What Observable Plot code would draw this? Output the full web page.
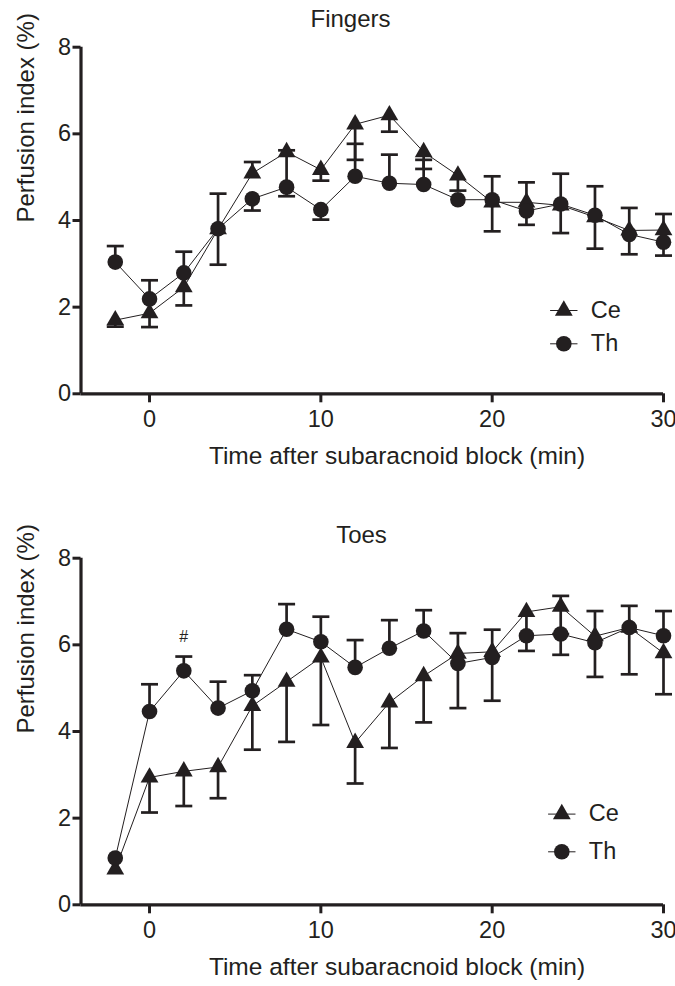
<!DOCTYPE html>
<html><head><meta charset="utf-8">
<script src="https://cdn.jsdelivr.net/npm/d3@7"></script>
<script src="https://cdn.jsdelivr.net/npm/@observablehq/plot@0.6"></script>
<style>
body{margin:0;background:#fff;}
#chart{width:675px;}
#chart svg{display:block;}
</style></head><body><div id="chart"></div>
<script>
// ---- data ----
const times = [-2, 0, 2, 4, 6, 8, 10, 12, 14, 16, 18, 20, 22, 24, 26, 28, 30];
const seriesNames = ["Ce", "Th"];
const xTicks = [0, 10, 20, 30];
const yTicks = [0, 2, 4, 6, 8];
const xDomain = [-4, 30];
const yDomain = [0, 8];
const panelTitles = ["Fingers", "Toes"];
const xLabel = "Time after subaracnoid block (min)";
const yLabel = "Perfusion index (%)";

// Fingers
const fingersCe   = [1.70, 1.86, 2.46, 3.80, 5.09, 5.58, 5.17, 6.22, 6.43, 5.58, 5.04, 4.42, 4.42, 4.35, 4.08, 3.77, 3.78];
const fingersCeLo = [1.55, 1.54, 2.04, null, null, 4.56, 4.92, 5.40, 6.05, 5.19, 4.69, 3.75, null, null, null, null, null];
const fingersCeHi = [null, null, null, 4.62, 5.35, 5.62, null, null, null, null, null, null, 4.88, 5.08, 4.79, 4.29, 4.15];
const fingersTh   = [3.04, 2.19, 2.79, 3.81, 4.50, 4.77, 4.25, 5.02, 4.86, 4.83, 4.48, 4.48, 4.22, 4.38, 4.12, 3.68, 3.50];
const fingersThLo = [null, null, null, 2.98, 4.23, null, 4.02, null, null, null, null, null, 3.90, 3.71, 3.35, 3.22, 3.19];
const fingersThHi = [3.41, 2.62, 3.28, null, null, null, null, 5.77, 5.52, 5.40, null, 5.02, null, null, null, null, null];

// Toes
const toesCe   = [0.82, 2.94, 3.08, 3.18, 4.59, 5.15, 5.71, 3.74, 4.67, 5.28, 5.80, 5.84, 6.76, 6.88, 6.20, 6.40, 5.81];
const toesCeLo = [null, 2.13, 2.28, 2.46, 3.58, 3.76, 4.15, 2.80, 3.62, 4.21, null, null, 5.86, 6.25, null, 5.32, 4.86];
const toesCeHi = [null, null, null, null, null, null, null, null, null, null, 6.27, 6.35, null, 7.13, 6.78, null, null];
const toesTh   = [1.08, 4.46, 5.40, 4.54, 4.94, 6.36, 6.07, 5.48, 5.92, 6.32, 5.57, 5.71, 6.21, 6.25, 6.05, 6.40, 6.21];
const toesThLo = [null, null, null, null, null, null, null, null, null, null, 4.54, 4.71, null, 5.77, 5.26, null, null];
const toesThHi = [null, 5.09, 5.73, 5.15, 5.30, 6.94, 6.65, 6.11, 6.57, 6.80, null, null, null, null, null, 6.90, 6.78];

// significance marks (Toes, Th)
const hashTimes = [2];
const hashLabel = "#";

// ---- build ----
const ink = "#231f20";
const font = "'Liberation Sans', Arial, Helvetica, sans-serif";
const hline = {draw(ctx, size) { const w = Math.sqrt(size / Math.PI); ctx.moveTo(-w, 0); ctx.lineTo(w, 0); }};
const symbols = {Ce: "triangle", Th: "circle"};
const radii = {Ce: 6.6, Th: 7.8};

function rows(name, mean, lo, hi) {
  return times.map((t, i) => ({series: name, t, mean: mean[i], lo: lo[i], hi: hi[i]}));
}

function panel(cfg) {
  const data = [
    rows("Ce", cfg.ce, cfg.ceLo, cfg.ceHi),
    rows("Th", cfg.th, cfg.thLo, cfg.thHi)
  ];
  const all = data.flat();
  const bars = all.filter(d => d.lo != null || d.hi != null);
  const caps = [];
  for (const d of all) {
    if (d.lo != null) caps.push({t: d.t, v: d.lo});
    if (d.hi != null) caps.push({t: d.t, v: d.hi});
  }
  const legendMarks = seriesNames.flatMap((name, i) => {
    const dy = cfg.legendDy[i];
    return [
      Plot.dot([name], {frameAnchor: "bottom-right", dx: cfg.legendDx, dy, symbol: hline, r: 13.7, stroke: ink, strokeWidth: 1, fill: "none"}),
      Plot.dot([name], {frameAnchor: "bottom-right", dx: cfg.legendDx, dy, symbol: symbols[name], r: radii[name], fill: ink}),
      Plot.text([name], {frameAnchor: "bottom-right", dx: cfg.legendDx + 27, dy: dy + 7, text: d => d, textAnchor: "start", lineAnchor: "bottom", fontSize: 23.5, fill: ink})
    ];
  });
  const extra = [];
  if (cfg.hash) {
    const th = data[1].filter(d => hashTimes.includes(d.t));
    extra.push(Plot.text(th, {x: "t", y: d => d.hi ?? d.mean, text: () => hashLabel, dy: -20, fontSize: 16, fill: ink, lineAnchor: "middle"}));
  }
  return Plot.plot({
    width: 675,
    height: cfg.height,
    marginTop: 46.7,
    marginBottom: cfg.height - 393.3,
    marginLeft: 80.5,
    marginRight: 12,
    x: {domain: xDomain},
    y: {domain: yDomain},
    style: {fontFamily: font, color: ink, background: "white", overflow: "visible"},
    marks: [
      Plot.axisX({ticks: xTicks, tickSize: 9, tickPadding: 8, strokeWidth: 3, fontSize: 23.5, label: null, fill: ink, stroke: ink}),
      Plot.axisY({ticks: yTicks, tickSize: 8, tickPadding: 2, strokeWidth: 3, fontSize: 23.5, label: null, fill: ink, stroke: ink}),
      Plot.ruleY([yDomain[0]], {stroke: ink, strokeWidth: 3.2}),
      Plot.ruleX([xDomain[0]], {stroke: ink, strokeWidth: 3.2}),
      Plot.text([cfg.title], {frameAnchor: "top", dx: cfg.titleDx, dy: cfg.titleDy, text: d => d, lineAnchor: "bottom", fontSize: 24, fill: ink}),
      Plot.text([xLabel], {frameAnchor: "bottom", dx: 24.75, dy: 69.7, text: d => d, lineAnchor: "bottom", fontSize: 24.5, fill: ink}),
      Plot.text([yLabel], {frameAnchor: "left", dx: -47.5, dy: 2, rotate: -90, text: d => d, lineAnchor: "bottom", fontSize: 24, fill: ink}),
      ...data.map(s => Plot.line(s, {x: "t", y: "mean", stroke: ink, strokeWidth: 1})),
      Plot.ruleX(bars, {x: "t", y1: d => d.lo ?? d.mean, y2: d => d.hi ?? d.mean, stroke: ink, strokeWidth: 2.7}),
      Plot.dot(caps, {x: "t", y: "v", symbol: hline, r: 8.5, stroke: ink, strokeWidth: 2.7, fill: "none"}),
      ...data.map(s => Plot.dot(s, {x: "t", y: "mean", symbol: symbols[s[0].series], r: radii[s[0].series], fill: ink})),
      ...extra,
      ...legendMarks
    ]
  });
}

const root = document.getElementById("chart");
root.append(panel({
  title: panelTitles[0], height: 511, titleDx: -21.75, titleDy: -20.7,
  ce: fingersCe, ceLo: fingersCeLo, ceHi: fingersCeHi,
  th: fingersTh, thLo: fingersThLo, thHi: fingersThHi,
  legendDx: -99.7, legendDy: [-83.3, -50]
}));
root.append(panel({
  title: panelTitles[1], height: 475, titleDx: -10.75, titleDy: -15.7,
  ce: toesCe, ceLo: toesCeLo, ceHi: toesCeHi,
  th: toesTh, thLo: toesThLo, thHi: toesThHi,
  legendDx: -101.7, legendDy: [-90.7, -53], hash: true
}));
</script></body></html>
